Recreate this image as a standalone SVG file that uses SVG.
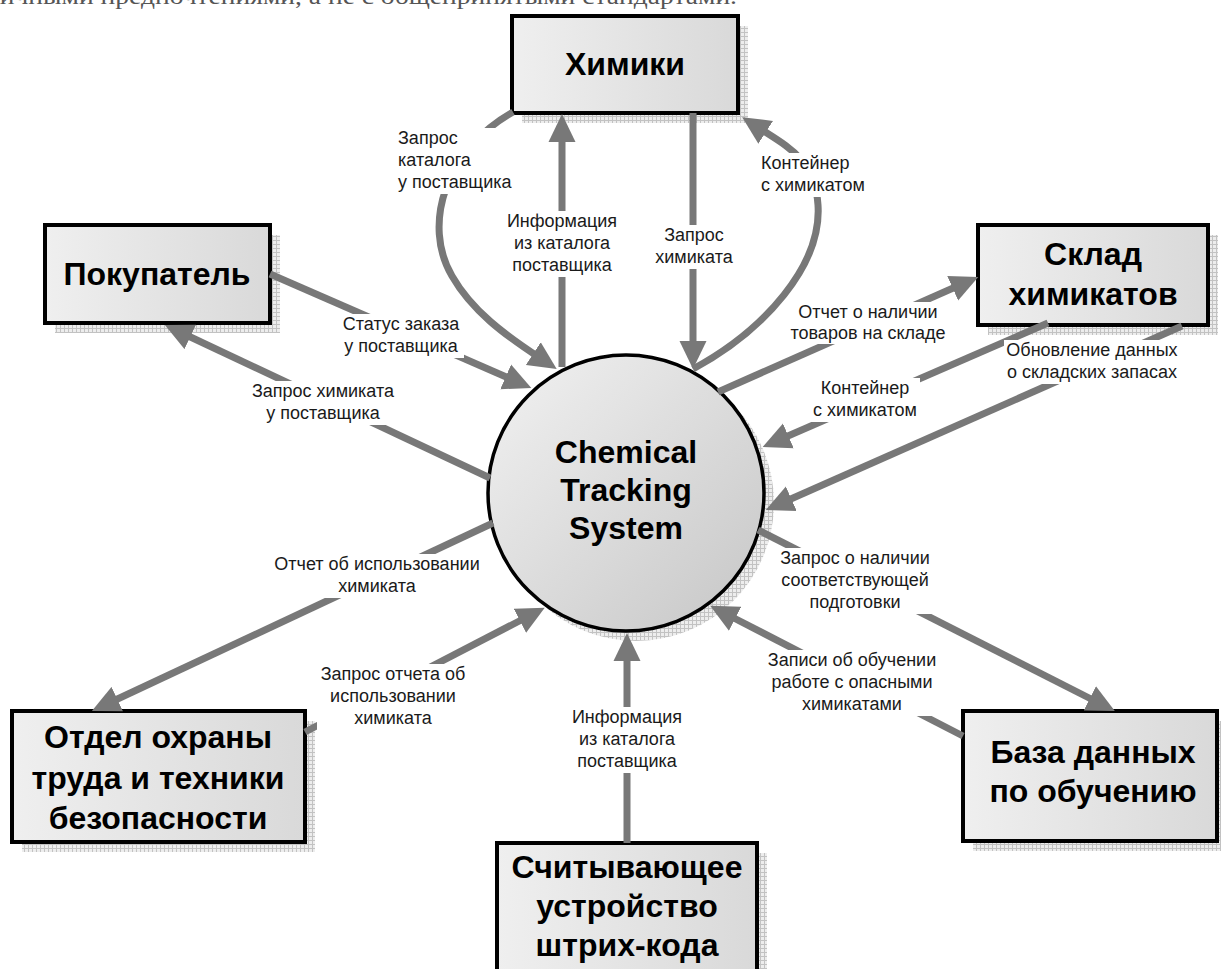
<svg xmlns="http://www.w3.org/2000/svg" width="1221" height="969" viewBox="0 0 1221 969">
  <style>
    .box{fill:url(#boxg);stroke:#000;stroke-width:4}
    .sh{fill:url(#hatch)}
    .nt{font-family:"Liberation Sans",Arial,sans-serif;font-weight:bold;font-size:32px;text-anchor:middle;fill:#000}
    .conn{fill:none;stroke:#787878;stroke-width:7}
    .arr{marker-end:url(#ah)}
    .bg{fill:#fff}
    .lbl{font-family:"Liberation Sans",Arial,sans-serif;font-size:18px;fill:#1a1a1a;text-anchor:middle}
    .lft{text-anchor:start}
    .top{font-family:"Liberation Serif","Times New Roman",serif;font-size:24px;fill:#555}
  </style>
  <defs>
    <linearGradient id="boxg" x1="0" y1="0" x2="1" y2="0">
      <stop offset="0" stop-color="#efefef"/>
      <stop offset="1" stop-color="#d9d9d9"/>
    </linearGradient>
    <linearGradient id="circg" x1="0" y1="0" x2="1" y2="1">
      <stop offset="0" stop-color="#f2f2f2"/>
      <stop offset="1" stop-color="#c6c6c6"/>
    </linearGradient>
    <pattern id="hatch" width="4" height="4" patternUnits="userSpaceOnUse">
      <rect width="4" height="4" fill="#ededed"/>
      <path d="M0,0.5H4M0.5,0V4" stroke="#c2c2c2" stroke-width="1"/>
    </pattern>
    <marker id="ah" markerUnits="userSpaceOnUse" markerWidth="28" markerHeight="28" refX="8" refY="14" orient="auto" viewBox="0 0 28 28">
      <path d="M0,0.5 L28,14 L0,27.5 z" fill="#787878"/>
    </marker>
  </defs>

  <rect width="1221" height="969" fill="#fff"/>
  <text class="top" x="-14" y="4" textLength="751" lengthAdjust="spacingAndGlyphs">личными предпочтениями, а не с общепринятыми стандартами.</text>

  <g id="node-chemists">
    <rect class="sh" x="522" y="26" width="226" height="97"/>
    <rect class="box" x="512" y="16" width="226" height="97"/>
    <text class="nt" x="625" y="75">Химики</text>
  </g>
  <g id="node-buyer">
    <rect class="sh" x="55" y="235" width="225" height="98"/>
    <rect class="box" x="45" y="225" width="225" height="98"/>
    <text class="nt" x="157" y="285">Покупатель</text>
  </g>
  <g id="node-stockroom">
    <rect class="sh" x="988" y="235" width="230" height="100"/>
    <rect class="box" x="978" y="225" width="230" height="100"/>
    <text class="nt" x="1093" y="265">Склад</text>
    <text class="nt" x="1093" y="305">химикатов</text>
  </g>
  <g id="node-system">
    <circle class="sh" cx="636" cy="503" r="138"/>
    <circle cx="626" cy="493" r="138" fill="url(#circg)" stroke="#000" stroke-width="3.5"/>
    <text class="nt" x="626" y="463">Chemical</text>
    <text class="nt" x="626" y="501">Tracking</text>
    <text class="nt" x="626" y="539">System</text>
  </g>
  <g id="node-safety">
    <rect class="sh" x="22" y="721" width="293" height="131"/>
    <rect class="box" x="12" y="711" width="293" height="131"/>
    <text class="nt" x="158" y="748">Отдел охраны</text>
    <text class="nt" x="158" y="789">труда и техники</text>
    <text class="nt" x="158" y="829">безопасности</text>
  </g>
  <g id="node-barcode">
    <rect class="sh" x="507" y="853" width="260" height="140"/>
    <rect class="box" x="497" y="843" width="260" height="140"/>
    <text class="nt" x="627" y="878">Считывающее</text>
    <text class="nt" x="627" y="917">устройство</text>
    <text class="nt" x="627" y="956">штрих-кода</text>
  </g>
  <g id="node-training">
    <rect class="sh" x="973" y="721" width="254" height="130"/>
    <rect class="box" x="963" y="711" width="254" height="130"/>
    <text class="nt" x="1093" y="763">База данных</text>
    <text class="nt" x="1093" y="802">по обучению</text>
  </g>

  <g id="connectors">
    <path class="conn arr" d="M270,274 L513,380"/>
    <path class="conn arr" d="M490,478 L183,333.5"/>
    <path class="conn arr" d="M493,523 L110,702.5"/>
    <path class="conn arr" d="M305,732 L527,617"/>
    <path class="conn arr" d="M627,843 L627,653"/>
    <path class="conn arr" d="M963,736 L728,615"/>
    <path class="conn arr" d="M758,530 L1097,702"/>
    <path class="conn arr" d="M1182,326 L784,502"/>
    <path class="conn arr" d="M1048,323 L781,439"/>
    <path class="conn arr" d="M718,392 L960,285"/>
    <path class="conn arr" d="M562,367 L562,134"/>
    <path class="conn arr" d="M693,113 L693,349"/>
    <path class="conn arr" d="M513,112 C445,150 422,225 452,276 C472,311 505,335 540,358"/>
    <path class="conn arr" d="M693,369 C765,330 822,265 818,205 C815,160 790,148 759,128"/>

    <g id="labels">
      <rect class="bg" x="338" y="314" width="126" height="44"/>
      <text class="lbl" x="401" y="330">Статус заказа</text>
      <text class="lbl" x="401" y="352">у поставщика</text>

      <rect class="bg" x="249" y="381" width="148" height="44"/>
      <text class="lbl" x="323" y="397">Запрос химиката</text>
      <text class="lbl" x="323" y="419">у поставщика</text>

      <rect class="bg" x="270" y="554" width="214" height="44"/>
      <text class="lbl" x="377" y="570">Отчет об использовании</text>
      <text class="lbl" x="377" y="592">химиката</text>

      <rect class="bg" x="317" y="664" width="152" height="66"/>
      <text class="lbl" x="393" y="680">Запрос отчета об</text>
      <text class="lbl" x="393" y="702">использовании</text>
      <text class="lbl" x="393" y="724">химиката</text>

      <rect class="bg" x="570" y="707" width="114" height="66"/>
      <text class="lbl" x="627" y="723">Информация</text>
      <text class="lbl" x="627" y="745">из каталога</text>
      <text class="lbl" x="627" y="767">поставщика</text>

      <rect class="bg" x="765" y="650" width="174" height="66"/>
      <text class="lbl" x="852" y="666">Записи об обучении</text>
      <text class="lbl" x="852" y="688">работе с опасными</text>
      <text class="lbl" x="852" y="710">химикатами</text>

      <rect class="bg" x="777" y="548" width="156" height="66"/>
      <text class="lbl" x="855" y="564">Запрос о наличии</text>
      <text class="lbl" x="855" y="586">соответствующей</text>
      <text class="lbl" x="855" y="608">подготовки</text>

      <rect class="bg" x="1004" y="340" width="176" height="44"/>
      <text class="lbl" x="1092" y="356">Обновление данных</text>
      <text class="lbl" x="1092" y="378">о складских запасах</text>

      <rect class="bg" x="810" y="378" width="110" height="44"/>
      <text class="lbl" x="865" y="394">Контейнер</text>
      <text class="lbl" x="865" y="416">с химикатом</text>

      <rect class="bg" x="787" y="302" width="162" height="42"/>
      <text class="lbl" x="868" y="318">Отчет о наличии</text>
      <text class="lbl" x="868" y="339">товаров на складе</text>

      <rect class="bg" x="503" y="211" width="118" height="66"/>
      <text class="lbl" x="562" y="227">Информация</text>
      <text class="lbl" x="562" y="249">из каталога</text>
      <text class="lbl" x="562" y="271">поставщика</text>

      <rect class="bg" x="651" y="225" width="86" height="44"/>
      <text class="lbl" x="694" y="241">Запрос</text>
      <text class="lbl" x="694" y="263">химиката</text>

      <rect class="bg" x="394" y="128" width="122" height="66"/>
      <text class="lbl lft" x="398" y="144">Запрос</text>
      <text class="lbl lft" x="398" y="166">каталога</text>
      <text class="lbl lft" x="398" y="188">у поставщика</text>

      <rect class="bg" x="757" y="153" width="113" height="44"/>
      <text class="lbl lft" x="761" y="169">Контейнер</text>
      <text class="lbl lft" x="761" y="191">с химикатом</text>
    </g>
  </g>
</svg>
